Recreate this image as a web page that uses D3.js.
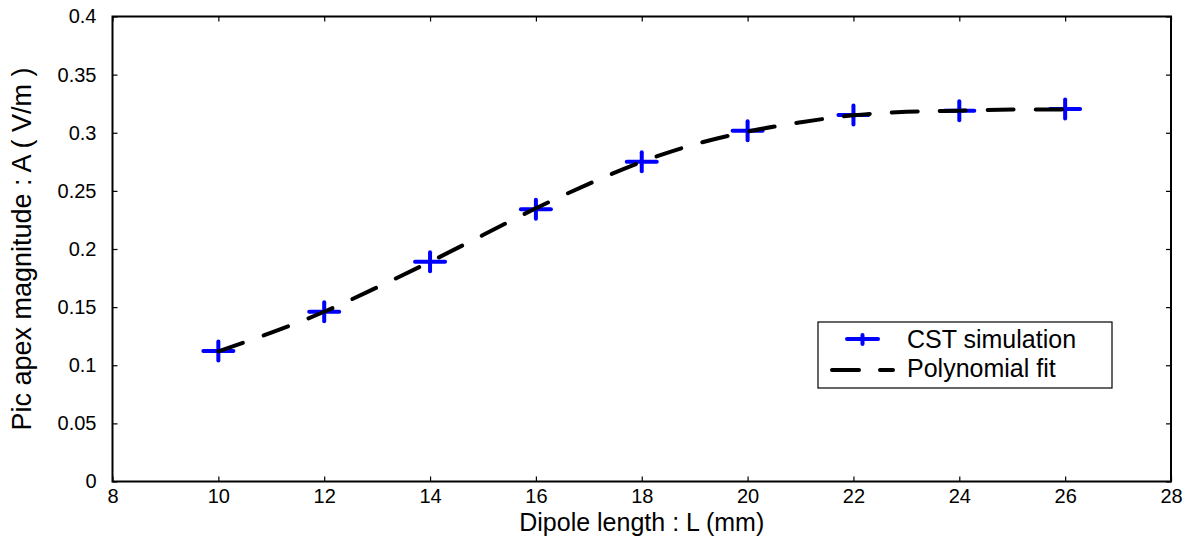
<!DOCTYPE html>
<html>
<head>
<meta charset="utf-8">
<script src="https://cdn.jsdelivr.net/npm/d3@7"></script>
<style>
  html, body { margin: 0; padding: 0; background: #fff; }
  svg { display: block; font-family: "Liberation Sans", Arial, sans-serif; }
</style>
</head>
<body>
<svg id="chart" width="1189" height="544"></svg>
<script>
// ---- data ----
const xTickValues = [8, 10, 12, 14, 16, 18, 20, 22, 24, 26, 28];
const yTickValues = [0, 0.05, 0.1, 0.15, 0.2, 0.25, 0.3, 0.35, 0.4];
const yTickLabels = ["0", "0.05", "0.1", "0.15", "0.2", "0.25", "0.3", "0.35", "0.4"];
const dipoleLength = [10, 12, 14, 16, 18, 20, 22, 24, 26];
const cstValues = [0.1123, 0.1461, 0.1891, 0.2342, 0.2751, 0.3018, 0.3153, 0.3190, 0.3204];
const fitLength = [10, 11, 12, 13, 14, 15, 16, 17, 18, 19, 20, 21, 22, 23, 24, 25, 26];
const fitValues = [0.112, 0.128, 0.146, 0.167, 0.189, 0.212, 0.235, 0.256, 0.275, 0.290, 0.301, 0.309, 0.315, 0.318, 0.319, 0.320, 0.320];
const seriesNames = ["CST simulation", "Polynomial fit"];
const xTitle = "Dipole length : L (mm)";
const yTitle = "Pic apex magnitude : A ( V/m )";

// ---- layout ----
const svg = d3.select("#chart");
const pL = 112.5, pR = 1171, pT = 16.5, pB = 481.5;
const x = d3.scaleLinear().domain([8, 28]).range([pL, pR]);
const y = d3.scaleLinear().domain([0, 0.4]).range([pB, pT]);

// frame
svg.append("rect")
  .attr("x", pL).attr("y", pT)
  .attr("width", pR - pL).attr("height", pB - pT)
  .attr("fill", "none").attr("stroke", "#000").attr("stroke-width", 2);

function styleAxis(g) {
  g.select(".domain").remove();
  g.selectAll(".tick line").attr("stroke", "#000").attr("stroke-width", 1.2);
  g.selectAll(".tick text").attr("fill", "#000").attr("font-size", 20)
    .attr("font-family", "Liberation Sans, Arial, sans-serif");
}

svg.append("g").attr("transform", `translate(0,${pB})`)
  .call(d3.axisBottom(x).tickValues(xTickValues).tickFormat(d3.format("d")).tickSizeInner(-5).tickSizeOuter(0).tickPadding(7))
  .call(styleAxis);
svg.append("g").attr("transform", `translate(0,${pT})`)
  .call(d3.axisTop(x).tickValues(xTickValues).tickFormat("").tickSizeInner(-5).tickSizeOuter(0))
  .call(styleAxis);
svg.append("g").attr("transform", `translate(${pL},0)`)
  .call(d3.axisLeft(y).tickValues(yTickValues).tickFormat((d, i) => yTickLabels[i]).tickSizeInner(-5).tickSizeOuter(0).tickPadding(16))
  .call(styleAxis);
svg.append("g").attr("transform", `translate(${pR},0)`)
  .call(d3.axisRight(y).tickValues(yTickValues).tickFormat("").tickSizeInner(-5).tickSizeOuter(0))
  .call(styleAxis);

// markers
const mw = 17, mh = 11.5;
const markers = svg.append("g").attr("stroke", "#0000ff").attr("stroke-width", 4).attr("stroke-linecap", "round");
dipoleLength.forEach((L, i) => {
  const cx = x(L), cy = y(cstValues[i]);
  markers.append("line").attr("x1", cx - mw + 2).attr("x2", cx + mw - 2).attr("y1", cy).attr("y2", cy);
  markers.append("line").attr("x1", cx).attr("x2", cx).attr("y1", cy - mh + 2).attr("y2", cy + mh - 2);
});

// fit line
const line = d3.line().x((d, i) => x(fitLength[i])).y(d => y(d)).curve(d3.curveCatmullRom);
svg.append("path")
  .datum(fitValues)
  .attr("d", line)
  .attr("fill", "none").attr("stroke", "#000").attr("stroke-width", 4)
  .attr("stroke-dasharray", "26,22").attr("stroke-linecap", "round");

// legend
const lg = svg.append("g");
lg.append("rect").attr("x", 818).attr("y", 322).attr("width", 294).attr("height", 66)
  .attr("fill", "#fff").attr("stroke", "#000").attr("stroke-width", 1.2);
lg.append("line").attr("x1", 847).attr("x2", 878).attr("y1", 339).attr("y2", 339)
  .attr("stroke", "#0000ff").attr("stroke-width", 4).attr("stroke-linecap", "round");
lg.append("line").attr("x1", 862.5).attr("x2", 862.5).attr("y1", 335).attr("y2", 344)
  .attr("stroke", "#0000ff").attr("stroke-width", 4).attr("stroke-linecap", "round");
lg.append("line").attr("x1", 832).attr("x2", 893).attr("y1", 370).attr("y2", 370)
  .attr("stroke", "#000").attr("stroke-width", 4).attr("stroke-linecap", "round")
  .attr("stroke-dasharray", "27,21");
lg.selectAll("text.lab").data(seriesNames).join("text")
  .attr("x", 907).attr("y", (d, i) => 348 + i * 29)
  .attr("font-size", 25).attr("fill", "#000")
  .text(d => d);

// axis titles
svg.append("text").attr("x", (pL + pR) / 2).attr("y", 531)
  .attr("text-anchor", "middle").attr("font-size", 25).attr("fill", "#000").text(xTitle);
svg.append("text").attr("transform", `translate(31,${(pT + pB) / 2}) rotate(-90)`)
  .attr("text-anchor", "middle").attr("font-size", 27).attr("fill", "#000").text(yTitle);
</script>
</body>
</html>
